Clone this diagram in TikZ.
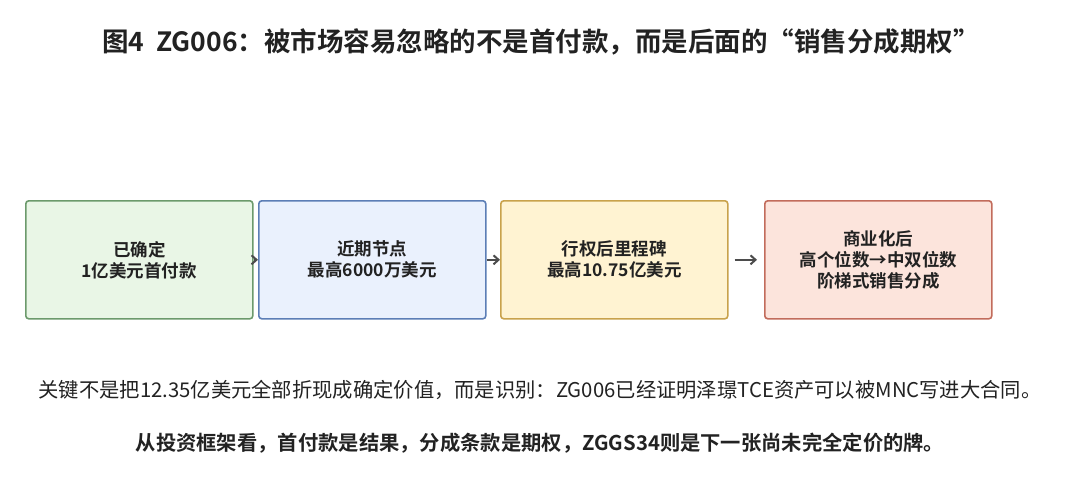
\documentclass[tikz,border=0pt]{standalone}
\usepackage{fontspec}
\setmainfont{Noto Sans CJK SC}
\newfontfamily\cjkb{Noto Sans CJK SC Bold}
\usetikzlibrary{arrows.meta}
\definecolor{gF}{HTML}{E9F6E6}\definecolor{gD}{HTML}{6C9A6C}
\definecolor{bF}{HTML}{EAF1FD}\definecolor{bD}{HTML}{5C7EB6}
\definecolor{yF}{HTML}{FFF3D2}\definecolor{yD}{HTML}{C9A24C}
\definecolor{rF}{HTML}{FCE4DC}\definecolor{rD}{HTML}{C26C5C}
\definecolor{tx}{HTML}{222222}
\tikzset{
 box/.style={draw=#1D,fill=#1F,line width=1.6pt,rounded corners=3pt,minimum width=227pt,minimum height=118pt,anchor=north west,align=center,font=\cjkb\fontsize{17.5}{21}\selectfont,text=tx},
 conn/.style={draw=black!70,line width=2pt,-{Straight Barb[length=5pt,width=9pt]}}
}
\begin{document}
\begin{tikzpicture}[x=1pt,y=-1pt]
\useasboundingbox[fill=white] (0,0) rectangle (1080,479);
\node[font=\cjkb\fontsize{26.5}{30}\selectfont,text=tx] (title) at (541,42) {图4\ \ ZG006：被市场容易忽略的不是首付款，而是后面的“销售分成期权”};
\node[box=g] (a) at (25,200) {已确定\\1亿美元首付款};
\node[box=b] (b) at (258,200) {近期节点\\最高6000万美元};
\node[box=y] (c) at (500,200) {行权后里程碑\\最高10.75亿美元};
\node[box=r] (d) at (764,200) {商业化后\\高个位数→中双位数\\阶梯式销售分成};
\draw[conn] (a.east) -- (b.west);
\draw[conn] (b.east) -- (c.west);
\draw[conn] ([xshift=6pt]c.east) -- ([xshift=-7pt]d.west);
\node[font=\fontsize{20.3}{24}\selectfont,text=tx] (n1) at (540,390) {关键不是把12.35亿美元全部折现成确定价值，而是识别：ZG006已经证明泽璟TCE资产可以被MNC写进大合同。};
\node[font=\cjkb\fontsize{20.3}{24}\selectfont,text=tx] (n2) at (540,443) {从投资框架看，首付款是结果，分成条款是期权，ZGGS34则是下一张尚未完全定价的牌。};
\end{tikzpicture}
\end{document}
